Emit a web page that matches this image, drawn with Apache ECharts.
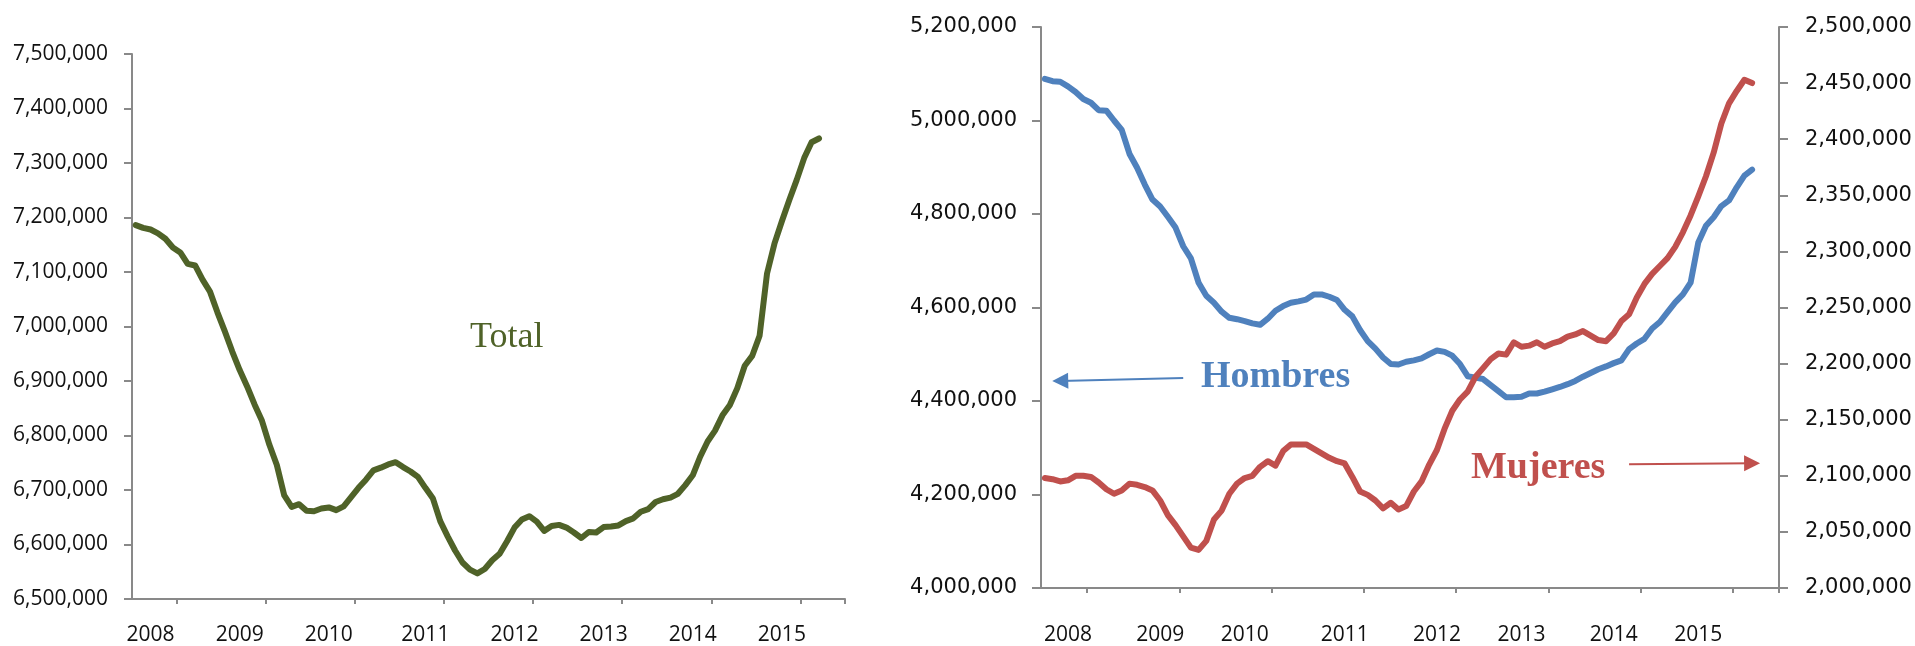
<!DOCTYPE html>
<html>
<head>
<meta charset="utf-8">
<script src="https://cdn.jsdelivr.net/npm/echarts@6/dist/echarts.min.js"></script>
<style>
html,body{margin:0;padding:0;background:#ffffff;}
#chart{width:1915px;height:646px;}
</style>
</head>
<body>
<div id="chart"></div>
<script>
// ---- categories: monthly, Nov 2007 .. Oct 2015 (96 slots) ----
const months = [];
for (let k = 0; k < 96; k++) {
  const m = (10 + k) % 12 + 1;
  const y = 2007 + Math.floor((10 + k) / 12);
  months.push(y + '-' + (m < 10 ? '0' + m : m));
}
// ---- tick labels ----
const yearLabels = ['2008', '2009', '2010', '2011', '2012', '2013', '2014', '2015'];
const yearLabelIdxLeft = [2, 14, 26, 39, 51, 63, 75, 87];
const yearLabelIdxRight = [3, 15, 26, 39, 51, 62, 74, 85];
const yearTickIdx = [6, 18, 30, 42, 54, 66, 78, 90];

// ---- series values ----
const total = [
  7186000, 7181000, 7178000, 7171000, 7161000, 7145000, 7136000, 7115000, 7112000, 7086000,
  7064000, 7026000, 6991000, 6954000, 6920000, 6890000, 6857000, 6827000, 6783000, 6746000,
  6690000, 6669000, 6674000, 6662000, 6661000, 6666000, 6668000, 6663000, 6670000, 6687000,
  6704000, 6719000, 6736000, 6741000, 6747000, 6751000, 6742000, 6734000, 6724000, 6704000,
  6685000, 6643000, 6615000, 6589000, 6567000, 6554000, 6547000, 6555000, 6571000, 6583000,
  6606000, 6631000, 6646000, 6652000, 6642000, 6625000, 6634000, 6636000, 6631000, 6622000,
  6612000, 6623000, 6622000, 6632000, 6633000, 6635000, 6643000, 6648000, 6660000, 6665000,
  6678000, 6683000, 6686000, 6693000, 6709000, 6727000, 6761000, 6789000, 6809000, 6837000,
  6856000, 6887000, 6928000, 6946000, 6983000, 7097000, 7152000, 7193000, 7232000, 7269000,
  7309000, 7338000, 7345000
];
const hombres = [
  5089000, 5084000, 5083000, 5073000, 5061000, 5046000, 5038000, 5022000, 5021000, 5000000,
  4980000, 4929000, 4899000, 4863000, 4831000, 4816000, 4794000, 4771000, 4731000, 4705000,
  4653000, 4625000, 4610000, 4591000, 4578000, 4575000, 4571000, 4566000, 4563000, 4576000,
  4593000, 4603000, 4610000, 4613000, 4617000, 4628000, 4628000, 4623000, 4616000, 4595000,
  4581000, 4552000, 4528000, 4512000, 4493000, 4479000, 4478000, 4484000, 4487000, 4491000,
  4500000, 4508000, 4505000, 4497000, 4479000, 4453000, 4450000, 4447000, 4434000, 4421000,
  4408000, 4408000, 4409000, 4416000, 4416000, 4420000, 4425000, 4430000, 4436000, 4443000,
  4452000, 4460000, 4468000, 4474000, 4481000, 4487000, 4511000, 4523000, 4533000, 4555000,
  4569000, 4590000, 4611000, 4628000, 4653000, 4739000, 4775000, 4793000, 4817000, 4829000,
  4857000, 4882000, 4895000
];
const mujeres = [
  2098000, 2097000, 2095000, 2096000, 2100000, 2100000, 2099000, 2094000, 2088000, 2084000,
  2087000, 2093000, 2092000, 2090000, 2087000, 2078000, 2065000, 2056000, 2046000, 2036000,
  2034000, 2042000, 2061000, 2069000, 2084000, 2093000, 2098000, 2100000, 2108000, 2113000,
  2109000, 2122000, 2128000, 2128000, 2128000, 2124000, 2120000, 2116000, 2113000, 2111000,
  2099000, 2086000, 2083000, 2078000, 2071000, 2076000, 2070000, 2073000, 2086000, 2095000,
  2110000, 2123000, 2142000, 2158000, 2168000, 2175000, 2188000, 2196000, 2204000, 2209000,
  2208000, 2219000, 2215000, 2216000, 2219000, 2215000, 2218000, 2220000, 2224000, 2226000,
  2229000, 2225000, 2221000, 2220000, 2227000, 2238000, 2244000, 2259000, 2271000, 2280000,
  2287000, 2294000, 2304000, 2317000, 2332000, 2349000, 2367000, 2388000, 2414000, 2432000,
  2443000, 2453000, 2450000
];

// ---- axis ranges ----
const totalAxis = [6500000, 7500000, 100000];
const hombresAxis = [4000000, 5200000, 200000];
const mujeresAxis = [2000000, 2500000, 50000];

// ---- annotation arrows (category index, value) ----
const hombresArrow = [[18, 4449000], [2, 4443000]];
const mujeresArrow = [[76, 2110400], [92, 2111200]];

const GREEN = '#4F6228', BLUE = '#4F81BD', RED = '#C0504D', AXIS = '#898989';
const fmt = v => Number(v).toLocaleString('en-US');

function xAxisFor(gridIndex, labelIdx, margin) {
  return {
    type: 'category', gridIndex: gridIndex, data: months, boundaryGap: true,
    axisLine: { show: true, onZero: false, lineStyle: { color: AXIS, width: 2 } },
    axisTick: { show: true, length: 5, interval: i => yearTickIdx.indexOf(i) >= 0,
                lineStyle: { color: AXIS, width: 2 } },
    axisLabel: { show: true, margin: margin, interval: i => labelIdx.indexOf(i) >= 0,
                 formatter: (v, i) => yearLabels[labelIdx.indexOf(i)],
                 fontFamily: 'Open Sans', fontSize: 21, color: '#111', verticalAlign: 'top' },
    splitLine: { show: false }
  };
}
function yAxisFor(gridIndex, range, pos, font, size, margin, tickLen) {
  return {
    type: 'value', gridIndex: gridIndex, position: pos,
    min: range[0], max: range[1], interval: range[2],
    axisLine: { show: true, lineStyle: { color: AXIS, width: 2 } },
    axisTick: { show: true, length: tickLen, lineStyle: { color: AXIS, width: 2 } },
    axisLabel: { show: true, margin: margin, formatter: fmt, fontFamily: font,
                 fontSize: size, color: '#111' },
    splitLine: { show: false }
  };
}
const lineStyleOf = c => ({ color: c, width: 6, cap: 'round', join: 'round' });

const chart = echarts.init(document.getElementById('chart'), null, { renderer: 'canvas' });
chart.setOption({
  animation: false,
  backgroundColor: '#ffffff',
  grid: [
    { left: 132, top: 54, width: 713, height: 545, containLabel: false },
    { left: 1041, top: 27, width: 738, height: 561, containLabel: false }
  ],
  xAxis: [
    xAxisFor(0, yearLabelIdxLeft, 26),
    xAxisFor(1, yearLabelIdxRight, 37)
  ],
  yAxis: [
    yAxisFor(0, totalAxis, 'left', 'Open Sans', 21, 24, 8),
    yAxisFor(1, hombresAxis, 'left', 'DejaVu Sans', 21, 24, 9),
    yAxisFor(1, mujeresAxis, 'right', 'DejaVu Sans', 21, 26, 9)
  ],
  series: [
    { name: 'Total', type: 'line', xAxisIndex: 0, yAxisIndex: 0, data: total,
      showSymbol: false, symbol: 'none', lineStyle: lineStyleOf(GREEN), itemStyle: { color: GREEN } },
    { name: 'Hombres', type: 'line', xAxisIndex: 1, yAxisIndex: 1, data: hombres,
      showSymbol: false, symbol: 'none', lineStyle: lineStyleOf(BLUE), itemStyle: { color: BLUE },
      markLine: { silent: true, symbol: ['none', 'triangle'], symbolSize: 16,
        label: { show: false }, emphasis: { disabled: true },
        lineStyle: { color: BLUE, width: 2, type: 'solid' },
        data: [[{ coord: hombresArrow[0] }, { coord: hombresArrow[1] }]] } },
    { name: 'Mujeres', type: 'line', xAxisIndex: 1, yAxisIndex: 2, data: mujeres,
      showSymbol: false, symbol: 'none', lineStyle: lineStyleOf(RED), itemStyle: { color: RED },
      markLine: { silent: true, symbol: ['none', 'triangle'], symbolSize: 16,
        label: { show: false }, emphasis: { disabled: true },
        lineStyle: { color: RED, width: 2, type: 'solid' },
        data: [[{ coord: mujeresArrow[0] }, { coord: mujeresArrow[1] }]] } }
  ],
  graphic: [
    { type: 'text', x: 470, y: 338, silent: true,
      style: { text: 'Total', fontFamily: 'Liberation Serif', fontSize: 36, fill: GREEN, verticalAlign: 'middle' } },
    { type: 'text', x: 1201, y: 377, silent: true,
      style: { text: 'Hombres', fontFamily: 'Liberation Serif', fontWeight: 'bold', fontSize: 38, fill: BLUE, verticalAlign: 'middle' } },
    { type: 'text', x: 1471, y: 468, silent: true,
      style: { text: 'Mujeres', fontFamily: 'Liberation Serif', fontWeight: 'bold', fontSize: 38, fill: RED, verticalAlign: 'middle' } }
  ]
});
</script>
</body>
</html>
